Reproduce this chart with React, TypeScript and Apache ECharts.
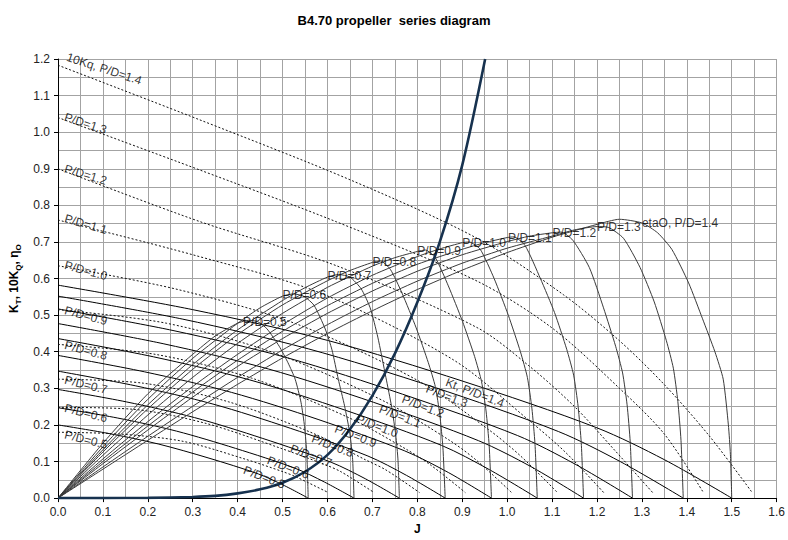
import React, { useEffect, useRef } from "react";
import * as echarts from "echarts";

type Pt = [number, number];

// Pitch ratios of the ten propellers
const pitchRatios = ["0.5", "0.6", "0.7", "0.8", "0.9", "1.0", "1.1", "1.2", "1.3", "1.4"];

// Thrust coefficient Kt curves (J, Kt), one list per P/D
const ktCurves: Pt[][] = [
  [[0, 0.2], [0.111, 0.177], [0.223, 0.148], [0.334, 0.11], [0.446, 0.066], [0.501, 0.036], [0.557, 0]],
  [[0, 0.247], [0.132, 0.219], [0.264, 0.183], [0.395, 0.136], [0.527, 0.082], [0.593, 0.044], [0.659, 0]],
  [[0, 0.297], [0.152, 0.263], [0.304, 0.22], [0.456, 0.163], [0.608, 0.098], [0.684, 0.053], [0.76, 0]],
  [[0, 0.347], [0.172, 0.307], [0.345, 0.257], [0.517, 0.191], [0.69, 0.115], [0.776, 0.062], [0.862, 0]],
  [[0, 0.39], [0.193, 0.345], [0.386, 0.289], [0.579, 0.215], [0.772, 0.129], [0.869, 0.07], [0.965, 0]],
  [[0, 0.436], [0.213, 0.386], [0.427, 0.323], [0.64, 0.24], [0.854, 0.144], [0.96, 0.078], [1.067, 0]],
  [[0, 0.477], [0.234, 0.422], [0.468, 0.353], [0.702, 0.262], [0.936, 0.157], [1.053, 0.086], [1.17, 0]],
  [[0, 0.517], [0.256, 0.458], [0.512, 0.383], [0.767, 0.284], [1.023, 0.171], [1.151, 0.093], [1.279, 0]],
  [[0, 0.552], [0.278, 0.489], [0.557, 0.408], [0.835, 0.304], [1.114, 0.182], [1.253, 0.099], [1.392, 0]],
  [[0, 0.582], [0.3, 0.515], [0.6, 0.431], [0.9, 0.32], [1.2, 0.192], [1.35, 0.105], [1.5, 0]],
];

// Torque coefficient 10Kq curves (J, 10Kq)
const kq10Curves: Pt[][] = [
  [[0, 0.18], [0.139, 0.175], [0.279, 0.155], [0.418, 0.106], [0.501, 0.072], [0.53, 0.058], [0.602, 0.015]],
  [[0, 0.248], [0.165, 0.243], [0.33, 0.204], [0.494, 0.137], [0.593, 0.092], [0.63, 0.072], [0.704, 0.015]],
  [[0, 0.325], [0.19, 0.314], [0.38, 0.263], [0.57, 0.176], [0.684, 0.105], [0.73, 0.077], [0.805, 0.015]],
  [[0, 0.42], [0.216, 0.393], [0.431, 0.328], [0.647, 0.22], [0.776, 0.133], [0.83, 0.09], [0.907, 0.015]],
  [[0, 0.515], [0.241, 0.478], [0.483, 0.396], [0.724, 0.266], [0.869, 0.16], [0.93, 0.105], [1.01, 0.015]],
  [[0, 0.635], [0.267, 0.57], [0.533, 0.475], [0.8, 0.322], [0.96, 0.186], [1.03, 0.115], [1.112, 0.015]],
  [[0, 0.76], [0.3, 0.665], [0.585, 0.56], [0.88, 0.378], [1.05, 0.211], [1.13, 0.125], [1.215, 0.015]],
  [[0, 0.9], [0.315, 0.756], [0.62, 0.635], [0.933, 0.466], [1.05, 0.36], [1.15, 0.25], [1.24, 0.13], [1.324, 0.015]],
  [[0, 1.04], [0.315, 0.897], [0.62, 0.755], [0.933, 0.593], [1.1, 0.465], [1.25, 0.3], [1.35, 0.175], [1.437, 0.015]],
  [[0, 1.183], [0.315, 1.034], [0.65, 0.87], [0.933, 0.71], [1.125, 0.556], [1.25, 0.43], [1.35, 0.31], [1.45, 0.17], [1.545, 0.016]],
];

// Open water efficiency curves (J, etaO)
const etaCurves: Pt[][] = [
  [[0, 0], [0.1, 0.15], [0.2, 0.285], [0.3, 0.393], [0.35, 0.443], [0.4, 0.478], [0.425, 0.486], [0.445, 0.482], [0.465, 0.463], [0.4925, 0.415], [0.512, 0.37], [0.528, 0.325], [0.541, 0.262], [0.549, 0.195], [0.554, 0.12], [0.557, 0]],
  [[0, 0], [0.1, 0.14], [0.2, 0.27], [0.3, 0.382], [0.4, 0.478], [0.45, 0.52], [0.5, 0.552], [0.525, 0.558], [0.548, 0.551], [0.57, 0.527], [0.595, 0.462], [0.61, 0.405], [0.624, 0.325], [0.638, 0.252], [0.65, 0.175], [0.656, 0.105], [0.659, 0]],
  [[0, 0], [0.1, 0.132], [0.2, 0.255], [0.3, 0.365], [0.4, 0.46], [0.5, 0.54], [0.55, 0.575], [0.6, 0.604], [0.625, 0.611], [0.65, 0.604], [0.675, 0.572], [0.695, 0.52], [0.712, 0.44], [0.73, 0.33], [0.743, 0.248], [0.752, 0.172], [0.757, 0.103], [0.76, 0]],
  [[0, 0], [0.1, 0.126], [0.2, 0.244], [0.3, 0.352], [0.4, 0.447], [0.5, 0.528], [0.6, 0.594], [0.65, 0.622], [0.7, 0.644], [0.718, 0.648], [0.74, 0.625], [0.766, 0.56], [0.7975, 0.465], [0.8245, 0.37], [0.84, 0.305], [0.85, 0.228], [0.857, 0.137], [0.862, 0]],
  [[0, 0], [0.1, 0.117], [0.2, 0.227], [0.3, 0.33], [0.4, 0.423], [0.5, 0.505], [0.6, 0.576], [0.7, 0.634], [0.75, 0.657], [0.8, 0.674], [0.818, 0.678], [0.84, 0.657], [0.869, 0.58], [0.9005, 0.483], [0.9275, 0.387], [0.943, 0.318], [0.953, 0.238], [0.96, 0.143], [0.965, 0]],
  [[0, 0], [0.1, 0.107], [0.2, 0.209], [0.3, 0.305], [0.4, 0.393], [0.5, 0.474], [0.6, 0.547], [0.7, 0.609], [0.8, 0.66], [0.85, 0.681], [0.9, 0.698], [0.915, 0.7], [0.94, 0.68], [0.971, 0.6], [1.0025, 0.5], [1.0295, 0.4], [1.045, 0.33], [1.055, 0.246], [1.062, 0.147], [1.067, 0]],
  [[0, 0], [0.1, 0.1], [0.2, 0.197], [0.3, 0.29], [0.4, 0.377], [0.5, 0.456], [0.6, 0.526], [0.7, 0.587], [0.8, 0.639], [0.9, 0.68], [0.95, 0.698], [1.0, 0.712], [1.015, 0.714], [1.04, 0.69], [1.074, 0.6], [1.1055, 0.507], [1.1325, 0.407], [1.148, 0.336], [1.158, 0.25], [1.165, 0.15], [1.17, 0]],
  [[0, 0], [0.1, 0.094], [0.2, 0.186], [0.3, 0.276], [0.4, 0.36], [0.5, 0.436], [0.6, 0.505], [0.7, 0.566], [0.8, 0.62], [0.9, 0.665], [1.0, 0.701], [1.05, 0.716], [1.1, 0.725], [1.12, 0.727], [1.146, 0.705], [1.183, 0.63], [1.2145, 0.52], [1.2415, 0.415], [1.257, 0.342], [1.267, 0.255], [1.274, 0.153], [1.279, 0]],
  [[0, 0], [0.1, 0.085], [0.2, 0.169], [0.3, 0.251], [0.4, 0.33], [0.5, 0.405], [0.6, 0.474], [0.7, 0.537], [0.8, 0.593], [0.9, 0.642], [1.0, 0.683], [1.1, 0.716], [1.15, 0.733], [1.2, 0.742], [1.225, 0.74], [1.259, 0.71], [1.296, 0.63], [1.3275, 0.536], [1.3545, 0.43], [1.37, 0.355], [1.38, 0.264], [1.387, 0.158], [1.392, 0]],
  [[0, 0], [0.1, 0.079], [0.2, 0.158], [0.3, 0.236], [0.4, 0.311], [0.5, 0.383], [0.6, 0.45], [0.7, 0.512], [0.8, 0.57], [0.9, 0.623], [1.0, 0.671], [1.1, 0.713], [1.2, 0.748], [1.25, 0.762], [1.3, 0.752], [1.335, 0.725], [1.367, 0.679], [1.404, 0.588], [1.435, 0.49], [1.4625, 0.4], [1.481, 0.325], [1.4925, 0.2], [1.497, 0.12], [1.5, 0]],
];

// Thick operating curve
const loadCurve: Pt[] = [
  [0, 0], [0.1, 0], [0.2, 0.0005], [0.3, 0.003], [0.35, 0.006], [0.4, 0.013], [0.45, 0.024],
  [0.5, 0.042], [0.55, 0.072], [0.6, 0.118], [0.65, 0.188], [0.7, 0.28], [0.75, 0.395],
  [0.8, 0.535], [0.85, 0.7], [0.9, 0.91], [0.951, 1.2],
];

// Label anchor points (J, value) and texts
const ktLabelPoints: Pt[] = [
  [0.414, 0.078], [0.467, 0.105], [0.518, 0.137], [0.566, 0.164], [0.617, 0.191],
  [0.665, 0.218], [0.716, 0.245], [0.767, 0.272], [0.82, 0.3], [0.864, 0.318],
];
const kqLabelPoints: Pt[] = [
  [0.015, 0.174], [0.015, 0.2465], [0.015, 0.324], [0.015, 0.419], [0.015, 0.514],
  [0.015, 0.637], [0.015, 0.765], [0.015, 0.901], [0.015, 1.042], [0.02, 1.206],
];
const kqLabelRotation = [14, 14, 14, 15, 15, 15, 16, 17, 18, 18];
const etaLabelPoints: Pt[] = [
  [0.412, 0.481], [0.5, 0.554], [0.6, 0.606], [0.7, 0.645], [0.8, 0.674],
  [0.9, 0.697], [1.002, 0.711], [1.101, 0.724], [1.2, 0.74], [1.3, 0.752],
];

const xTicks = { min: 0, max: 1.6, interval: 0.1 };
const yTicks = { min: 0, max: 1.2, interval: 0.1 };

const FONT = "'Liberation Sans', Arial, sans-serif";

function labelText(kind: string, i: number): string {
  const pd = "P/D=" + pitchRatios[i];
  if (i === pitchRatios.length - 1) {
    if (kind === "kt") return "Kt, " + pd;
    if (kind === "kq") return "10Kq, " + pd;
    return "etaO, " + pd;
  }
  return pd;
}

export default function App() {
  const ref = useRef<HTMLDivElement>(null);

  useEffect(() => {
    if (!ref.current) return;
    const chart = echarts.init(ref.current, null, { renderer: "svg" });

    const series: any[] = [];
    ktCurves.forEach((c, i) => {
      series.push({
        type: "line", name: "Kt " + pitchRatios[i], data: c, smooth: 0.3, symbol: "none",
        lineStyle: { color: "#000", width: 1 }, silent: true, z: 3,
      });
    });
    kq10Curves.forEach((c, i) => {
      series.push({
        type: "line", name: "10Kq " + pitchRatios[i], data: c, smooth: 0.3, symbol: "none",
        lineStyle: { color: "#111", width: 1, type: [2, 2] }, silent: true, z: 3,
      });
    });
    etaCurves.forEach((c, i) => {
      series.push({
        type: "line", name: "eta " + pitchRatios[i], data: c, smooth: 0.2,
        symbol: "none", lineStyle: { color: "#3a3a3a", width: 1 }, silent: true, z: 3,
      });
    });
    series.push({
      type: "line", name: "load", data: loadCurve, smooth: 0.3, symbol: "none",
      lineStyle: { color: "#17324f", width: 2.6 }, silent: true, z: 4,
    });

    const mkLabels = (pts: Pt[], kind: string, rot: (i: number) => number) => ({
      type: "scatter", symbolSize: 0, silent: true, clip: false, z: 6,
      data: pts.map((p, i) => ({
        value: p,
        label: { formatter: labelText(kind, i), rotate: rot(i) },
      })),
      label: {
        show: true, position: "right", distance: 0, align: "left", verticalAlign: "middle",
        color: "#000", fontSize: 12, fontFamily: FONT,
      },
    });
    series.push(mkLabels(ktLabelPoints, "kt", () => -21));
    series.push(mkLabels(kqLabelPoints, "kq", (i) => -kqLabelRotation[i]));
    series.push(mkLabels(etaLabelPoints, "eta", () => 0));

    const gridGray = "#a3a3a3";
    const axisCommon = {
      type: "value",
      axisLine: { show: true, onZero: false, lineStyle: { color: "#000", width: 1 } },
      axisTick: { show: true, length: 4, lineStyle: { color: "#000" } },
      splitLine: { show: true, lineStyle: { color: gridGray, width: 1 } },
      minorTick: { show: false, splitNumber: 2 },
      minorSplitLine: { show: true, lineStyle: { color: gridGray, width: 1 } },
      axisLabel: {
        color: "#222", fontSize: 12, fontFamily: FONT,
        formatter: (v: number) => v.toFixed(1),
      },
    };

    chart.setOption({
      animation: false,
      title: {
        text: "B4.70 propeller  series diagram",
        left: "center", top: 9,
        textStyle: { fontSize: 13, fontWeight: "bold", color: "#000", fontFamily: FONT },
      },
      grid: { left: 57, right: 6, top: 59, bottom: 41, containLabel: false },
      xAxis: {
        ...axisCommon,
        ...xTicks,
        name: "J", nameLocation: "middle", nameGap: 19,
        nameTextStyle: { fontSize: 12, fontWeight: "bold", color: "#000", fontFamily: FONT },
      },
      yAxis: {
        ...axisCommon,
        ...yTicks,
        name: "{b|K}{s|T}{b|, 10K}{s|Q}{b|, η}{s|O}",
        nameLocation: "middle", nameGap: 36, nameRotate: 90,
        nameTextStyle: {
          fontFamily: FONT,
          rich: {
            b: { fontSize: 12, fontWeight: "bold", color: "#000", fontFamily: FONT, lineHeight: 16, verticalAlign: "middle" },
            s: { fontSize: 8, fontWeight: "bold", color: "#000", fontFamily: FONT, lineHeight: 16, verticalAlign: "bottom", padding: [6, 0, 0, 0] },
          },
        },
      },
      series,
    });

    return () => chart.dispose();
  }, []);

  return (
    <div
      ref={ref}
      style={{ position: "fixed", left: 0, top: 0, width: 788, height: 540, background: "#fff" }}
    />
  );
}
